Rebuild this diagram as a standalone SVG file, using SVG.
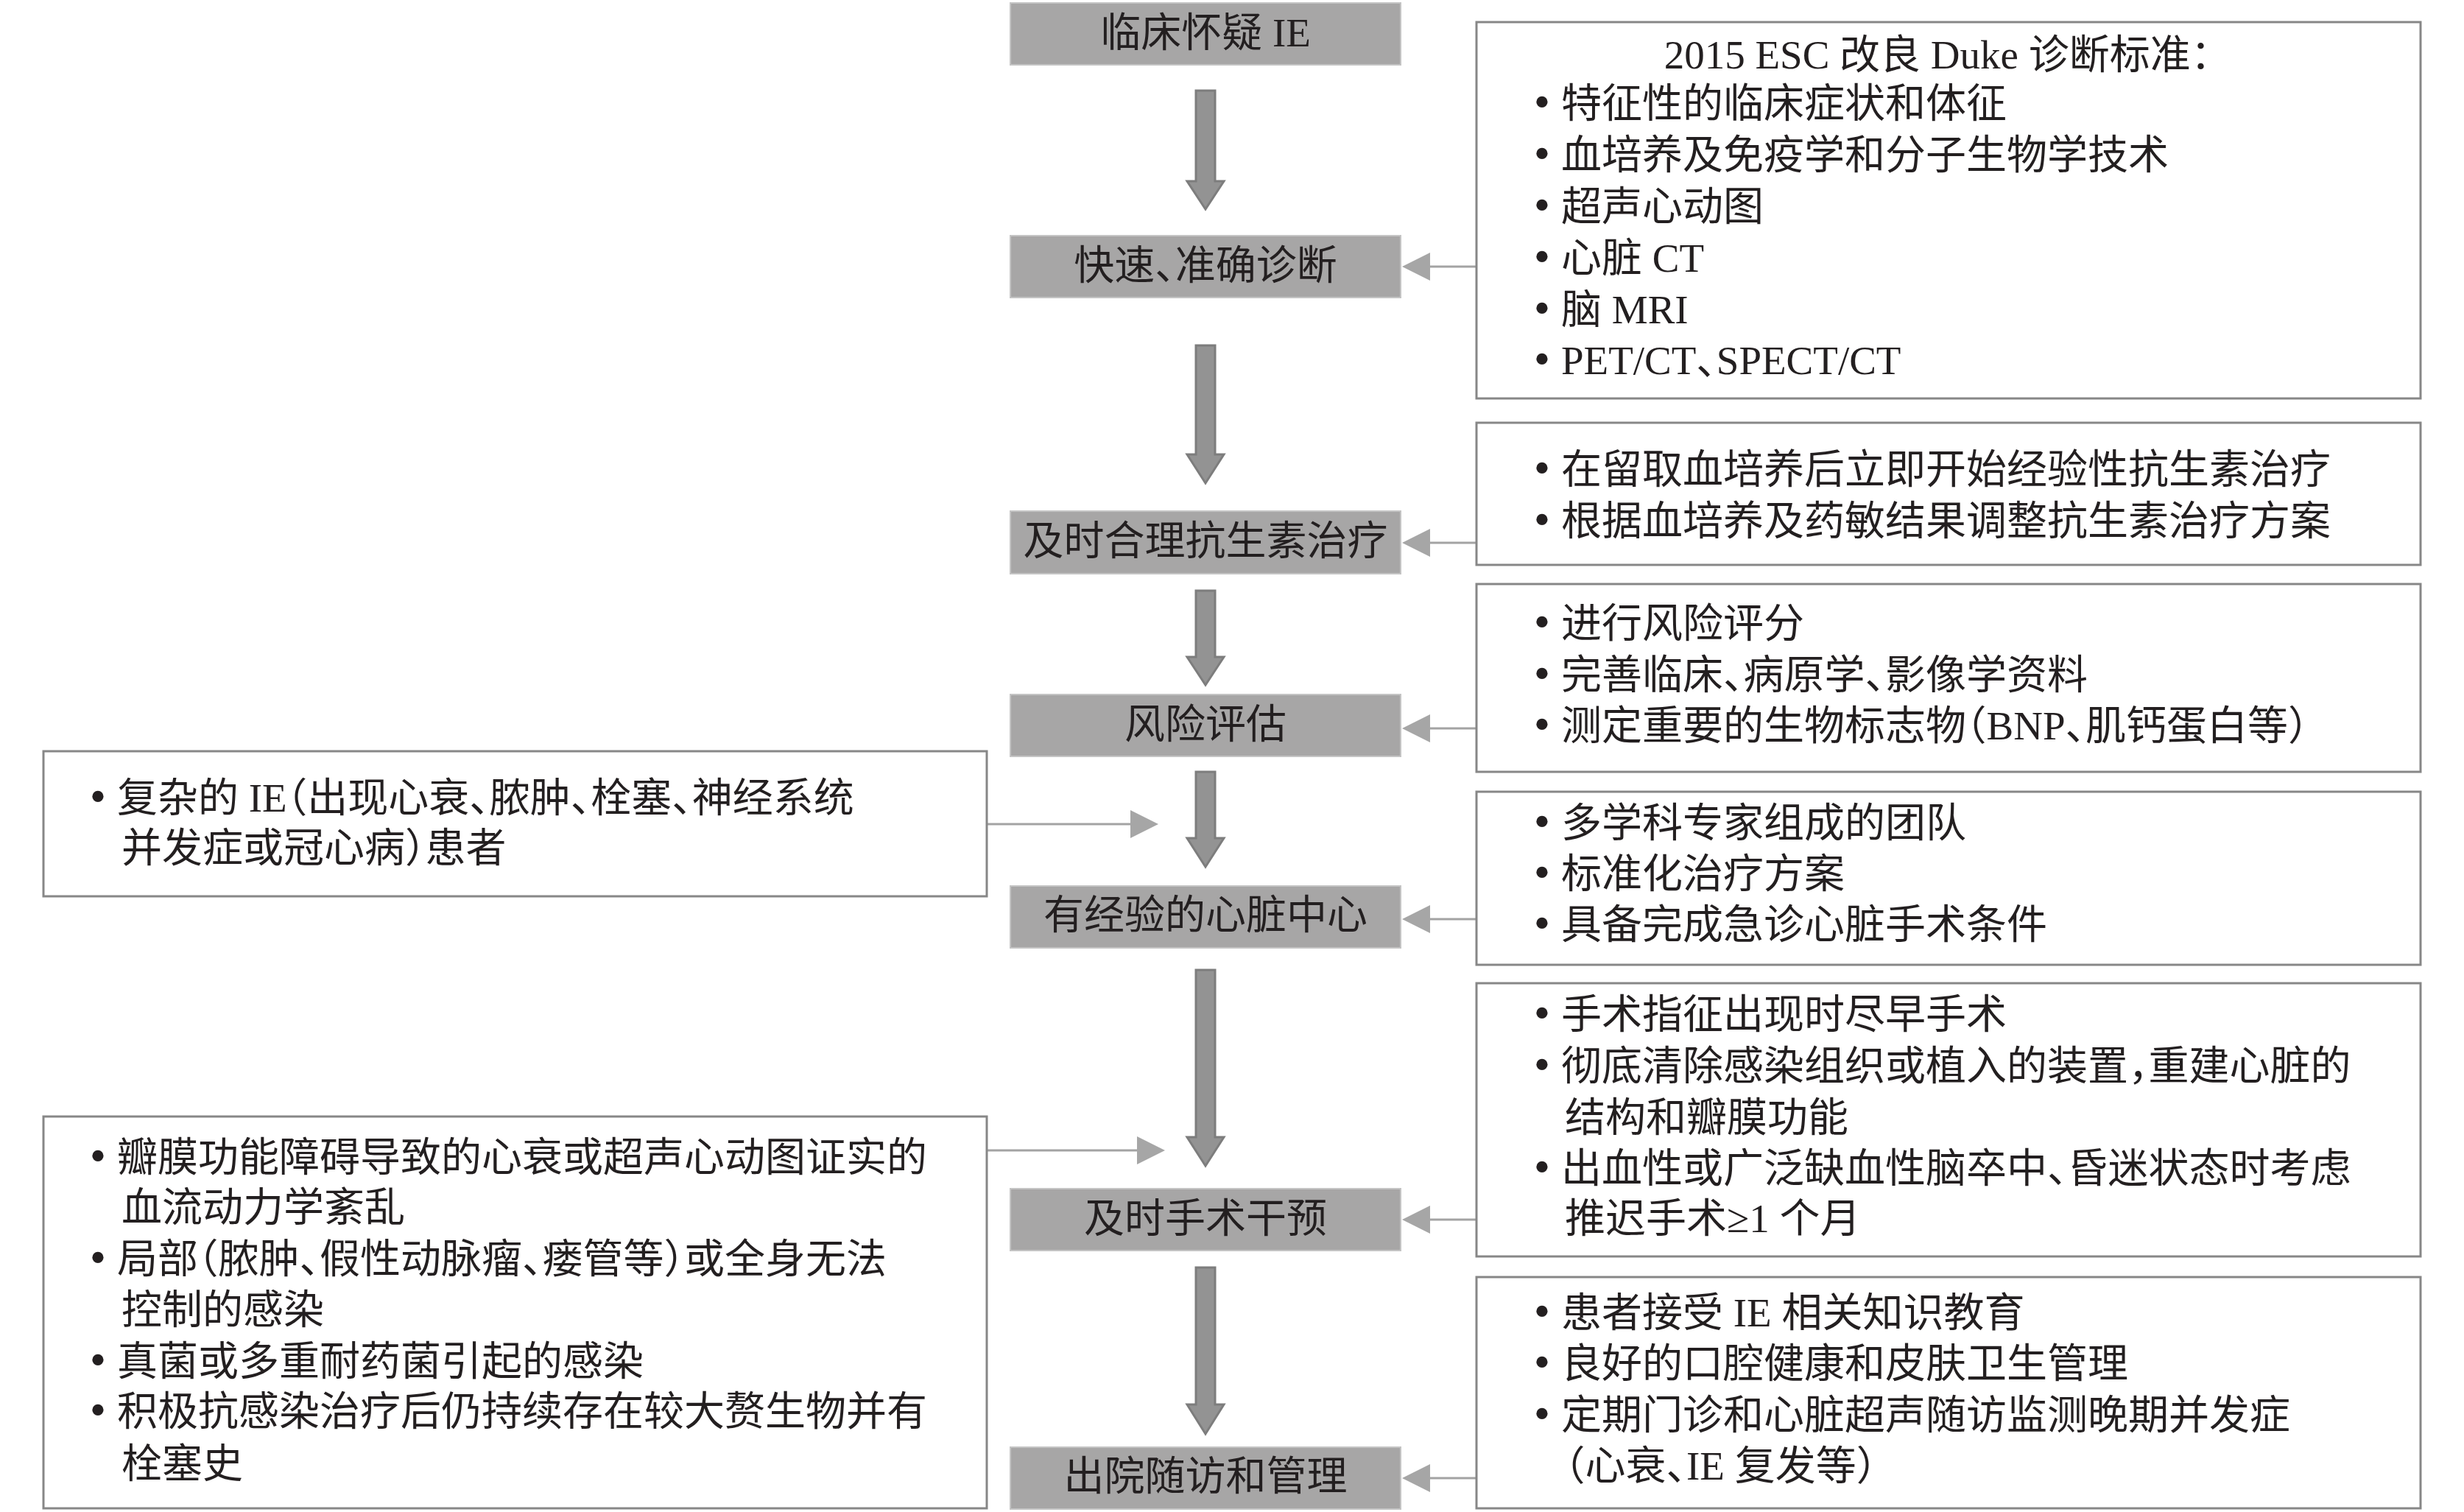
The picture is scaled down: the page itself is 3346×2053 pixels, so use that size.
<svg xmlns="http://www.w3.org/2000/svg" width="3346" height="2053" viewBox="0 0 3346 2053">
<style>
text{font-family:"Liberation Serif","Noto Sans CJK SC",serif;font-size:55px;fill:#231f20;font-feature-settings:"halt"}
.c{text-anchor:middle}
.b{text-anchor:middle;font-size:64px}
.step rect{fill:#a7a6a6;stroke:#c4c4c4;stroke-width:2}
.info rect{fill:#ffffff;stroke:#878787;stroke-width:3}
.down{fill:#939393;stroke:#7d7d7d;stroke-width:3;stroke-linejoin:miter}
.thin{stroke:#a3a3a3;stroke-width:3;fill:none}
.head{fill:#a6a6a6}
</style>
<rect width="3346" height="2053" fill="#ffffff"/>

<g id="connectors">
  <path class="down" d="M1624,123 H1650 V246 H1662 L1637,284 L1612,246 H1624 Z"/>
  <path class="down" d="M1624,469 H1650 V617 H1662 L1637,656 L1612,617 H1624 Z"/>
  <path class="down" d="M1624,802 H1650 V892 H1662 L1637,930 L1612,892 H1624 Z"/>
  <path class="down" d="M1624,1048 H1650 V1138 H1662 L1637,1177 L1612,1138 H1624 Z"/>
  <path class="down" d="M1624,1317 H1650 V1544 H1662 L1637,1583 L1612,1544 H1624 Z"/>
  <path class="down" d="M1624,1721 H1650 V1907 H1662 L1637,1947 L1612,1907 H1624 Z"/>

  <line class="thin" x1="2005" y1="362" x2="1940" y2="362"/>
  <polygon class="head" points="1904,362 1942,343 1942,381"/>
  <line class="thin" x1="2005" y1="737" x2="1940" y2="737"/>
  <polygon class="head" points="1904,737 1942,718 1942,756"/>
  <line class="thin" x1="2005" y1="989" x2="1940" y2="989"/>
  <polygon class="head" points="1904,989 1942,970 1942,1008"/>
  <line class="thin" x1="2005" y1="1248" x2="1940" y2="1248"/>
  <polygon class="head" points="1904,1248 1942,1229 1942,1267"/>
  <line class="thin" x1="2005" y1="1656" x2="1940" y2="1656"/>
  <polygon class="head" points="1904,1656 1942,1637 1942,1675"/>
  <line class="thin" x1="2005" y1="2007" x2="1940" y2="2007"/>
  <polygon class="head" points="1904,2007 1942,1988 1942,2026"/>

  <line class="thin" x1="1340" y1="1119" x2="1537" y2="1119"/>
  <polygon class="head" points="1573,1119 1535,1100 1535,1138"/>
  <line class="thin" x1="1340" y1="1562" x2="1546" y2="1562"/>
  <polygon class="head" points="1582,1562 1544,1543 1544,1581"/>
</g>

<g id="n1" class="step"><rect x="1372" y="4" width="530" height="84"/><text class="c" x="1637" y="63">临床怀疑 IE</text></g>
<g id="n2" class="step"><rect x="1372" y="320" width="530" height="84"/><text class="c" x="1637" y="379">快速、准确诊断</text></g>
<g id="n3" class="step"><rect x="1372" y="694" width="530" height="85"/><text class="c" x="1637" y="753">及时合理抗生素治疗</text></g>
<g id="n4" class="step"><rect x="1372" y="943" width="530" height="84"/><text class="c" x="1637" y="1002">风险评估</text></g>
<g id="n5" class="step"><rect x="1372" y="1203" width="530" height="84"/><text class="c" x="1637" y="1261">有经验的心脏中心</text></g>
<g id="n6" class="step"><rect x="1372" y="1614" width="530" height="84"/><text class="c" x="1637" y="1673">及时手术干预</text></g>
<g id="n7" class="step"><rect x="1372" y="1965" width="530" height="84"/><text class="c" x="1637" y="2023">出院随访和管理</text></g>

<g id="r1" class="info">
  <rect x="2005" y="30" width="1282" height="511"/>
  <text class="c" x="2631" y="93">2015 ESC 改良 Duke 诊断标准：</text>
  <text class="b" x="2094" y="160">•</text><text x="2120" y="159">特征性的临床症状和体征</text>
  <text class="b" x="2094" y="230">•</text><text x="2120" y="229">血培养及免疫学和分子生物学技术</text>
  <text class="b" x="2094" y="300">•</text><text x="2120" y="299">超声心动图</text>
  <text class="b" x="2094" y="370">•</text><text x="2120" y="369">心脏 CT</text>
  <text class="b" x="2094" y="440">•</text><text x="2120" y="439">脑 MRI</text>
  <text class="b" x="2094" y="509">•</text><text x="2120" y="508">PET/CT、SPECT/CT</text>
</g>

<g id="r2" class="info">
  <rect x="2005" y="574" width="1282" height="193"/>
  <text class="b" x="2094" y="657">•</text><text x="2120" y="656">在留取血培养后立即开始经验性抗生素治疗</text>
  <text class="b" x="2094" y="727">•</text><text x="2120" y="726">根据血培养及药敏结果调整抗生素治疗方案</text>
</g>

<g id="r3" class="info">
  <rect x="2005" y="793" width="1282" height="255"/>
  <text class="b" x="2094" y="866">•</text><text x="2120" y="865">进行风险评分</text>
  <text class="b" x="2094" y="936">•</text><text x="2120" y="935">完善临床、病原学、影像学资料</text>
  <text class="b" x="2094" y="1005">•</text><text x="2120" y="1004">测定重要的生物标志物（BNP、肌钙蛋白等）</text>
</g>

<g id="r4" class="info">
  <rect x="2005" y="1075" width="1282" height="235"/>
  <text class="b" x="2094" y="1137">•</text><text x="2120" y="1136">多学科专家组成的团队</text>
  <text class="b" x="2094" y="1206">•</text><text x="2120" y="1205">标准化治疗方案</text>
  <text class="b" x="2094" y="1275">•</text><text x="2120" y="1274">具备完成急诊心脏手术条件</text>
</g>

<g id="r5" class="info">
  <rect x="2005" y="1335" width="1282" height="371"/>
  <text class="b" x="2094" y="1397">•</text><text x="2120" y="1396">手术指征出现时尽早手术</text>
  <text class="b" x="2094" y="1467">•</text><text x="2120" y="1466">彻底清除感染组织或植入的装置，重建心脏的</text>
  <text x="2125" y="1536">结构和瓣膜功能</text>
  <text class="b" x="2094" y="1606">•</text><text x="2120" y="1605">出血性或广泛缺血性脑卒中、昏迷状态时考虑</text>
  <text x="2125" y="1673">推迟手术≥1 个月</text>
</g>

<g id="r6" class="info">
  <rect x="2005" y="1734" width="1282" height="314"/>
  <text class="b" x="2094" y="1802">•</text><text x="2120" y="1801">患者接受 IE 相关知识教育</text>
  <text class="b" x="2094" y="1871">•</text><text x="2120" y="1870">良好的口腔健康和皮肤卫生管理</text>
  <text class="b" x="2094" y="1941">•</text><text x="2120" y="1940">定期门诊和心脏超声随访监测晚期并发症</text>
  <text x="2125" y="2009">（心衰、IE 复发等）</text>
</g>

<g id="l1" class="info">
  <rect x="59" y="1020" width="1281" height="197"/>
  <text class="b" x="133" y="1103">•</text><text x="159" y="1102">复杂的 IE（出现心衰、脓肿、栓塞、神经系统</text>
  <text x="165" y="1170">并发症或冠心病）患者</text>
</g>

<g id="l2" class="info">
  <rect x="59" y="1516" width="1281" height="532"/>
  <text class="b" x="133" y="1591">•</text><text x="159" y="1590">瓣膜功能障碍导致的心衰或超声心动图证实的</text>
  <text x="165" y="1658">血流动力学紊乱</text>
  <text class="b" x="133" y="1729">•</text><text x="159" y="1728">局部（脓肿、假性动脉瘤、瘘管等）或全身无法</text>
  <text x="165" y="1797">控制的感染</text>
  <text class="b" x="133" y="1868">•</text><text x="159" y="1867">真菌或多重耐药菌引起的感染</text>
  <text class="b" x="133" y="1936">•</text><text x="159" y="1935">积极抗感染治疗后仍持续存在较大赘生物并有</text>
  <text x="165" y="2006">栓塞史</text>
</g>
</svg>
